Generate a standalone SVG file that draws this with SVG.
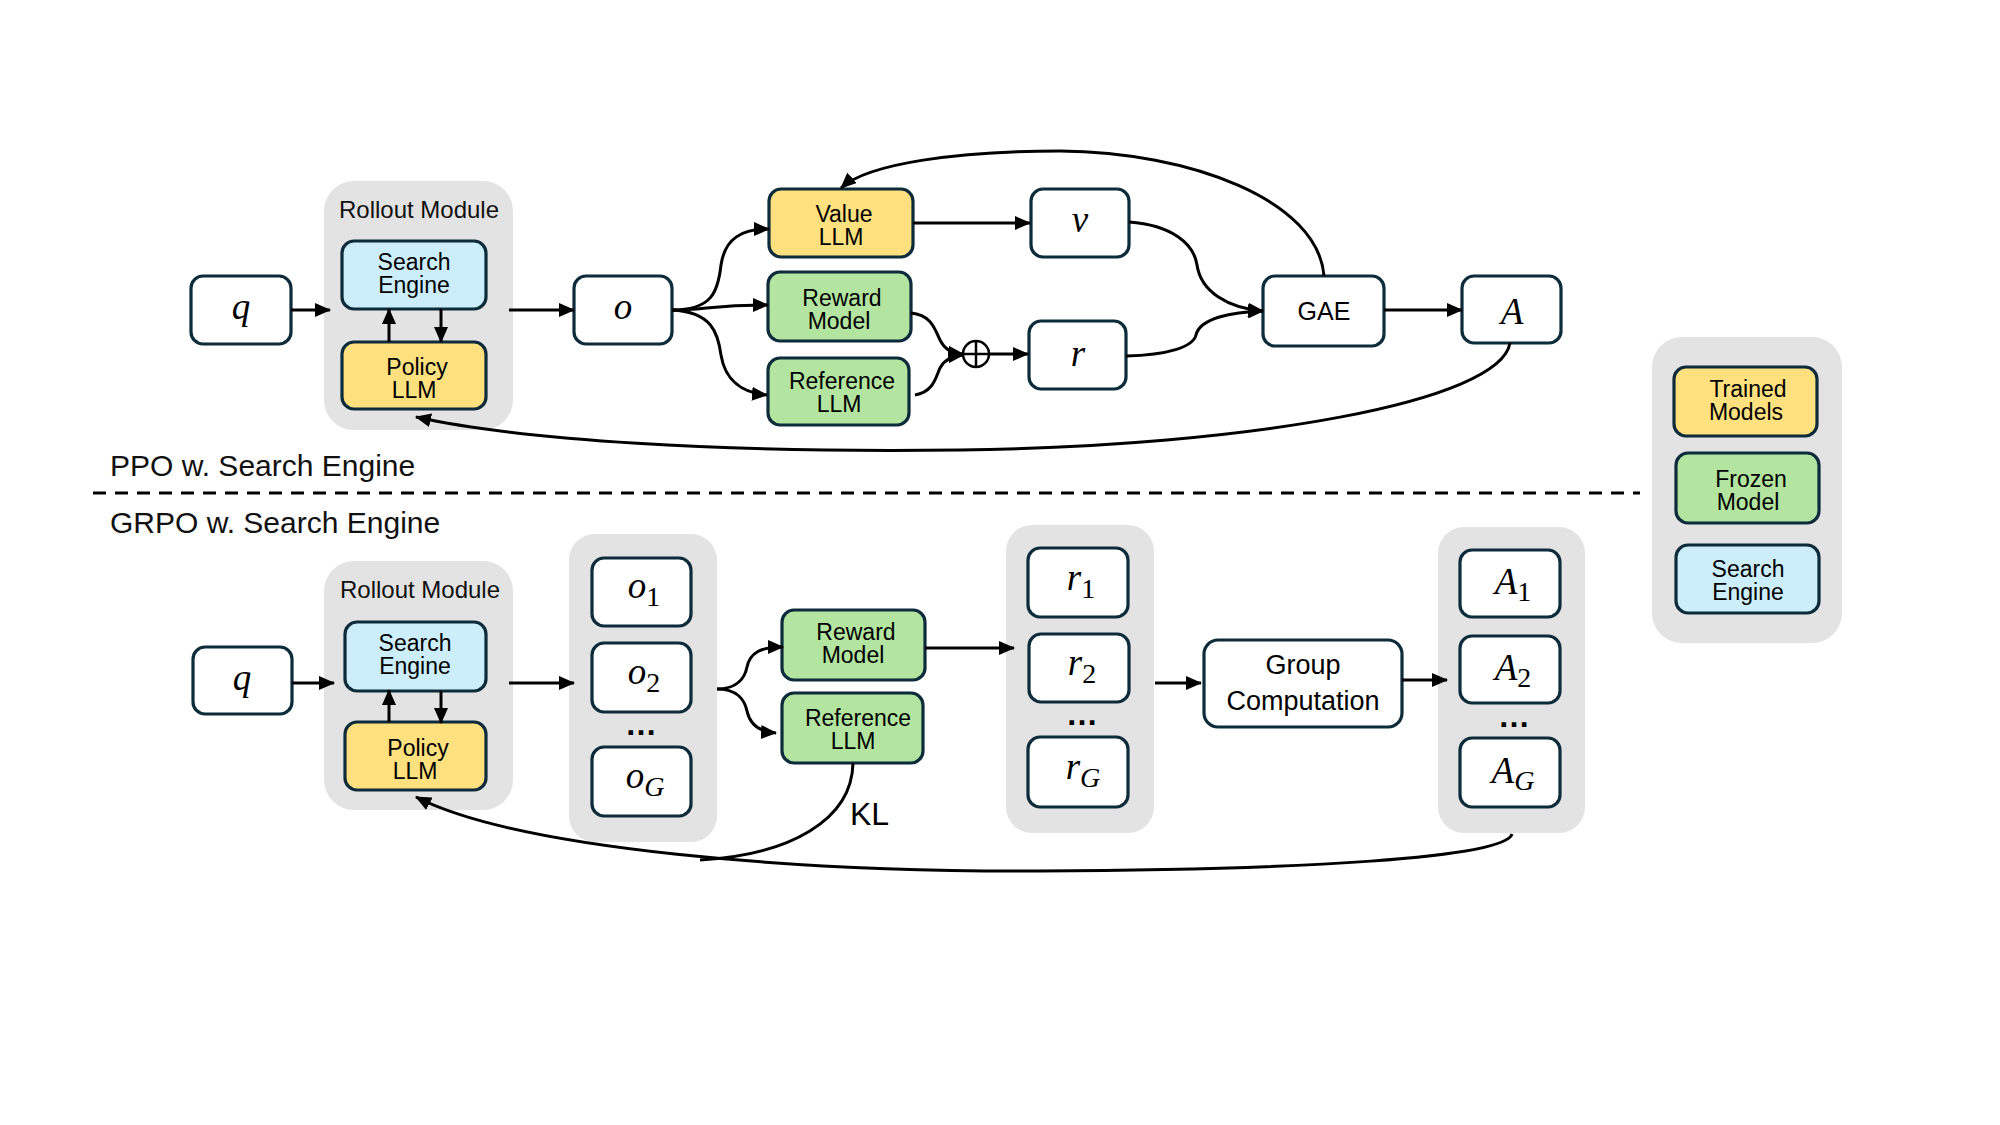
<svg xmlns="http://www.w3.org/2000/svg" width="2000" height="1125" viewBox="0 0 2000 1125">
<defs>
<style>
.bg{fill:#E3E3E3;stroke:none}
.nd{stroke:#0D2B3A;stroke-width:3.2}
.w{fill:#FFFFFF}
.y{fill:#FFE07F}
.g{fill:#B3E5A1}
.b{fill:#CCEEFA}
.t{font-family:"Liberation Sans",Arial,sans-serif;font-size:23px;fill:#000;text-anchor:middle}
.m{font-family:"Liberation Serif","Times New Roman",serif;font-style:italic;font-size:37px;fill:#000;text-anchor:middle}
.sub{font-style:normal;font-size:28px}
.dots{font-family:"Liberation Sans",Arial,sans-serif;font-size:32px;font-weight:bold;fill:#000;text-anchor:middle}
.ttl{font-family:"Liberation Sans",Arial,sans-serif;font-size:30px;fill:#111}
.ro{font-family:"Liberation Sans",Arial,sans-serif;font-size:24px;fill:#111;text-anchor:middle}
.c{fill:none;stroke:#000;stroke-width:3}
</style>
<marker id="ah" markerUnits="userSpaceOnUse" markerWidth="16" markerHeight="14" viewBox="0 0 16 14" refX="15" refY="7" orient="auto">
<path d="M0,0 L16,7 L0,14 z" fill="#000"/>
</marker>
</defs>
<rect width="2000" height="1125" fill="#FFFFFF"/>

<!-- section titles and divider -->
<text class="ttl" x="110" y="476">PPO w. Search Engine</text>
<line x1="93" y1="493" x2="1640" y2="493" stroke="#000" stroke-width="3" stroke-dasharray="13 9"/>
<text class="ttl" x="110" y="533">GRPO w. Search Engine</text>

<!-- ===== PPO nodes ===== -->
<g id="ppo-q"><rect class="nd w" x="191" y="276" width="100" height="68" rx="12"/><text class="m" x="241" y="319">q</text></g>
<g id="ppo-rollout">
<rect class="bg" x="324" y="181" width="189" height="249" rx="30"/>
<text class="ro" x="419" y="218">Rollout Module</text>
</g>
<g id="ppo-search"><rect class="nd b" x="342" y="241" width="144" height="68" rx="12"/><text class="t"><tspan x="414" y="270">Search</tspan><tspan x="414" y="293">Engine</tspan></text></g>
<g id="ppo-policy"><rect class="nd y" x="342" y="342" width="144" height="67" rx="12"/><text class="t"><tspan x="417" y="375">Policy</tspan><tspan x="414" y="398">LLM</tspan></text></g>
<g id="ppo-o"><rect class="nd w" x="574" y="276" width="98" height="68" rx="12"/><text class="m" x="623" y="319">o</text></g>
<g id="ppo-value"><rect class="nd y" x="769" y="189" width="144" height="68" rx="12"/><text class="t"><tspan x="844" y="222">Value</tspan><tspan x="841" y="245">LLM</tspan></text></g>
<g id="ppo-reward"><rect class="nd g" x="768" y="272" width="143" height="69" rx="12"/><text class="t"><tspan x="842" y="306">Reward</tspan><tspan x="839" y="329">Model</tspan></text></g>
<g id="ppo-reference"><rect class="nd g" x="768" y="358" width="141" height="67" rx="12"/><text class="t"><tspan x="842" y="389">Reference</tspan><tspan x="839" y="412">LLM</tspan></text></g>
<g id="ppo-plus">
<circle cx="976" cy="354" r="13" fill="#FFFFFF" stroke="#000" stroke-width="2.5"/>
<line x1="963" y1="354" x2="989" y2="354" stroke="#000" stroke-width="2.5"/>
<line x1="976" y1="341" x2="976" y2="367" stroke="#000" stroke-width="2.5"/>
</g>
<g id="ppo-v"><rect class="nd w" x="1031" y="189" width="98" height="68" rx="12"/><text class="m" x="1080" y="232">v</text></g>
<g id="ppo-r"><rect class="nd w" x="1029" y="321" width="97" height="68" rx="12"/><text class="m" x="1078" y="366">r</text></g>
<g id="ppo-gae"><rect class="nd w" x="1263" y="276" width="121" height="70" rx="12"/><text class="t" x="1324" y="320" style="font-size:25px">GAE</text></g>
<g id="ppo-a"><rect class="nd w" x="1462" y="276" width="99" height="67" rx="12"/><text class="m" x="1512" y="324">A</text></g>

<!-- ===== GRPO nodes ===== -->
<g id="grpo-q"><rect class="nd w" x="193" y="647" width="99" height="67" rx="12"/><text class="m" x="242" y="690">q</text></g>
<g id="grpo-rollout">
<rect class="bg" x="324" y="561" width="189" height="249" rx="30"/>
<text class="ro" x="420" y="598">Rollout Module</text>
</g>
<g id="grpo-search"><rect class="nd b" x="345" y="622" width="141" height="69" rx="12"/><text class="t"><tspan x="415" y="651">Search</tspan><tspan x="415" y="674">Engine</tspan></text></g>
<g id="grpo-policy"><rect class="nd y" x="345" y="722" width="141" height="68" rx="12"/><text class="t"><tspan x="418" y="756">Policy</tspan><tspan x="415" y="779">LLM</tspan></text></g>
<g id="grpo-o-group">
<rect class="bg" x="569" y="534" width="148" height="308" rx="26"/>
</g>
<g id="grpo-o1"><rect class="nd w" x="592" y="558" width="99" height="68" rx="12"/><text class="m" x="644" y="598">o<tspan class="sub" dy="8">1</tspan></text></g>
<g id="grpo-o2"><rect class="nd w" x="592" y="643" width="99" height="69" rx="12"/><text class="m" x="644" y="684">o<tspan class="sub" dy="8">2</tspan></text></g>
<text class="dots" x="641" y="735">…</text>
<g id="grpo-oG"><rect class="nd w" x="592" y="747" width="99" height="69" rx="12"/><text class="m" x="645" y="788">o<tspan class="sub" style="font-style:italic" dy="8">G</tspan></text></g>

<g id="grpo-reward"><rect class="nd g" x="782" y="610" width="143" height="70" rx="12"/><text class="t"><tspan x="856" y="640">Reward</tspan><tspan x="853" y="663">Model</tspan></text></g>
<g id="grpo-reference"><rect class="nd g" x="782" y="693" width="141" height="70" rx="12"/><text class="t"><tspan x="858" y="726">Reference</tspan><tspan x="853" y="749">LLM</tspan></text></g>

<g id="grpo-r-group"><rect class="bg" x="1006" y="525" width="148" height="308" rx="26"/></g>
<g id="grpo-r1"><rect class="nd w" x="1028" y="548" width="100" height="69" rx="12"/><text class="m" x="1081" y="590">r<tspan class="sub" dy="8">1</tspan></text></g>
<g id="grpo-r2"><rect class="nd w" x="1029" y="634" width="100" height="68" rx="12"/><text class="m" x="1082" y="675">r<tspan class="sub" dy="8">2</tspan></text></g>
<text class="dots" x="1082" y="725">…</text>
<g id="grpo-rG"><rect class="nd w" x="1028" y="737" width="100" height="70" rx="12"/><text class="m" x="1083" y="779">r<tspan class="sub" style="font-style:italic" dy="8">G</tspan></text></g>

<g id="grpo-group"><rect class="nd w" x="1204" y="640" width="198" height="87" rx="14"/><text class="t" style="font-size:27px"><tspan x="1303" y="674">Group</tspan><tspan x="1303" y="710">Computation</tspan></text></g>

<g id="grpo-a-group"><rect class="bg" x="1438" y="527" width="147" height="306" rx="26"/></g>
<g id="grpo-a1"><rect class="nd w" x="1460" y="550" width="100" height="67" rx="12"/><text class="m" x="1513" y="594">A<tspan class="sub" dy="7">1</tspan></text></g>
<g id="grpo-a2"><rect class="nd w" x="1460" y="636" width="100" height="67" rx="12"/><text class="m" x="1513" y="680">A<tspan class="sub" dy="7">2</tspan></text></g>
<text class="dots" x="1514" y="727">…</text>
<g id="grpo-aG"><rect class="nd w" x="1460" y="738" width="100" height="69" rx="12"/><text class="m" x="1513" y="783">A<tspan class="sub" style="font-style:italic" dy="7">G</tspan></text></g>

<!-- ===== Legend ===== -->
<g id="legend">
<rect class="bg" x="1652" y="337" width="190" height="306" rx="30"/>
<g id="legend-trained"><rect class="nd y" x="1674" y="367" width="143" height="69" rx="12"/><text class="t"><tspan x="1748" y="397">Trained</tspan><tspan x="1746" y="420">Models</tspan></text></g>
<g id="legend-frozen"><rect class="nd g" x="1676" y="453" width="143" height="70" rx="12"/><text class="t"><tspan x="1751" y="487">Frozen</tspan><tspan x="1748" y="510">Model</tspan></text></g>
<g id="legend-search"><rect class="nd b" x="1676" y="545" width="143" height="68" rx="12"/><text class="t"><tspan x="1748" y="577">Search</tspan><tspan x="1748" y="600">Engine</tspan></text></g>
</g>

<!-- ===== Connectors ===== -->
<g id="connectors">
<!-- PPO -->
<path class="c" d="M291,310 L330,310" marker-end="url(#ah)"/>
<path class="c" d="M509,310 L574,310" marker-end="url(#ah)"/>
<path class="c" d="M389,342 L389,309" marker-end="url(#ah)"/>
<path class="c" d="M441,309 L441,342" marker-end="url(#ah)"/>
<path class="c" d="M672,310 C712,310 718,292 721,265 C725,238 742,229 769,229" marker-end="url(#ah)"/>
<path class="c" d="M672,310 C705,310 712,305 768,305" marker-end="url(#ah)"/>
<path class="c" d="M672,310 C712,312 718,333 721,355 C725,380 742,393 767,395" marker-end="url(#ah)"/>
<path class="c" d="M911,313 C932,315 935,330 940,340 C945,350 952,353 963,354" marker-end="url(#ah)"/>
<path class="c" d="M915,395 C934,392 936,376 940,368 C944,360 952,356 963,355" marker-end="url(#ah)"/>
<path class="c" d="M990,354 L1028,354" marker-end="url(#ah)"/>
<path class="c" d="M913,223 L1030,223" marker-end="url(#ah)"/>
<path class="c" d="M1129,222 C1172,225 1194,244 1197,265 C1201,292 1228,308 1263,311" marker-end="url(#ah)"/>
<path class="c" d="M1126,356 C1168,355 1193,347 1196,335 C1200,318 1232,312 1263,311" marker-end="url(#ah)"/>
<path class="c" d="M1384,310 L1462,310" marker-end="url(#ah)"/>
<path class="c" d="M1324,276 C1318,200 1190,152 1060,151 C960,151 868,163 841,188" marker-end="url(#ah)"/>
<path class="c" d="M1510,343 C1500,402 1250,446 960,450 C720,453 520,440 416,417" marker-end="url(#ah)"/>
<!-- GRPO -->
<path class="c" d="M292,683 L334,683" marker-end="url(#ah)"/>
<path class="c" d="M509,683 L574,683" marker-end="url(#ah)"/>
<path class="c" d="M389,722 L389,690" marker-end="url(#ah)"/>
<path class="c" d="M441,691 L441,723" marker-end="url(#ah)"/>
<path class="c" d="M717,689 C738,689 745,677 747,667 C750,653 760,647 783,647" marker-end="url(#ah)"/>
<path class="c" d="M717,689 C738,689 745,701 747,711 C750,725 760,732 776,733" marker-end="url(#ah)"/>
<path class="c" d="M925,648 L1014,648" marker-end="url(#ah)"/>
<path class="c" d="M1155,683 L1201,683" marker-end="url(#ah)"/>
<path class="c" d="M1402,680 L1447,680" marker-end="url(#ah)"/>
<path class="c" d="M853,763 C852,820 790,855 700,860"/>
<path class="c" d="M1512,834 C1505,858 1300,870 1040,871 C800,872 520,850 416,797" marker-end="url(#ah)"/>
</g>
<text x="850" y="825" style="font-family:'Liberation Sans',Arial,sans-serif;font-size:32px;fill:#000">KL</text>
</svg>
